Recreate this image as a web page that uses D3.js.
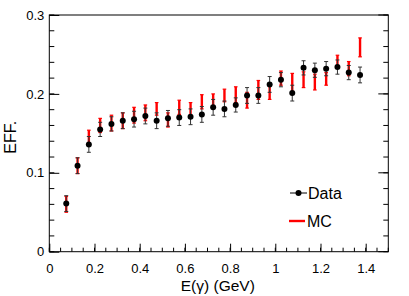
<!DOCTYPE html>
<html>
<head>
<meta charset="utf-8">
<script src="https://cdn.jsdelivr.net/npm/d3@7"></script>
<style>
  body { margin: 0; background: #fff; }
  text { font-family: "Liberation Sans", Arial, sans-serif; fill: #000; }
</style>
</head>
<body>
<div id="chart"></div>
<script>
// bin centres in E(gamma), GeV
var energies = [0.075, 0.125, 0.175, 0.225, 0.275, 0.325, 0.375, 0.425, 0.475, 0.525,
    0.575, 0.625, 0.675, 0.725, 0.775, 0.825, 0.875, 0.925, 0.975, 1.025,
    1.075, 1.125, 1.175, 1.225, 1.275, 1.325, 1.375];

// efficiency measured in data
var dataEff = [0.061, 0.109, 0.136, 0.155, 0.162, 0.166, 0.168, 0.172, 0.166, 0.169,
    0.170, 0.171, 0.174, 0.183, 0.181, 0.186, 0.198, 0.198, 0.212, 0.218,
    0.201, 0.233, 0.230, 0.232, 0.234, 0.227, 0.224];
var dataErr = [0.010, 0.010, 0.010, 0.009, 0.009, 0.010, 0.010, 0.010, 0.010, 0.010,
    0.010, 0.010, 0.010, 0.010, 0.010, 0.009, 0.010, 0.010, 0.010, 0.009,
    0.010, 0.009, 0.009, 0.009, 0.009, 0.009, 0.010];

// efficiency from MC
var mcEff = [0.060, 0.109, 0.145, 0.160, 0.163, 0.166, 0.173, 0.176, 0.181, 0.167,
    0.183, 0.180, 0.190, 0.191, 0.198, 0.199, 0.192, 0.205, 0.203, 0.220,
    0.214, 0.218, 0.215, 0.219, 0.241, 0.232, 0.259];
var mcErr = [0.010, 0.010, 0.009, 0.009, 0.010, 0.010, 0.010, 0.010, 0.008, 0.009,
    0.009, 0.009, 0.009, 0.009, 0.008, 0.010, 0.010, 0.012, 0.010, 0.009,
    0.012, 0.010, 0.010, 0.008, 0.008, 0.009, 0.012];

var xTickValues = [0, 0.2, 0.4, 0.6, 0.8, 1, 1.2, 1.4];
var yTickValues = [0, 0.1, 0.2, 0.3];

var svgWidth = 409;
var svgHeight = 296;
var margin = { top: 15, right: 20.7, bottom: 44.3, left: 49.3 };
var width = svgWidth - margin.left - margin.right;
var height = svgHeight - margin.top - margin.bottom;

var svg = d3.select("#chart")
    .append("svg")
    .attr("width", svgWidth)
    .attr("height", svgHeight);

var chartGroup = svg.append("g")
    .attr("transform", `translate(${margin.left}, ${margin.top})`);

var x = d3.scaleLinear().domain([0, 1.5]).range([0, width]);
var y = d3.scaleLinear().domain([0, 0.3]).range([height, 0]);

// minor ticks
var xMinor = d3.range(0, 1.5001, 0.05);
var yMinor = d3.range(0, 0.3001, 0.02);

// axes: ticks point inward like ROOT
var bottomAxis = d3.axisBottom(x).tickValues(xTickValues).tickSize(-8).tickPadding(12)
    .tickFormat(d => d === 0 ? "0" : d3.format("")(d));
var leftAxis = d3.axisLeft(y).tickValues(yTickValues).tickSize(-10).tickPadding(5)
    .tickFormat(d => d === 0 ? "0" : d3.format(".1f")(d));

chartGroup.append("g").selectAll("line.xm")
    .data(xMinor).enter().append("line")
    .attr("x1", d => x(d)).attr("x2", d => x(d))
    .attr("y1", height).attr("y2", height - 4)
    .attr("stroke", "#000");

chartGroup.append("g").selectAll("line.ym")
    .data(yMinor).enter().append("line")
    .attr("x1", 0).attr("x2", 5)
    .attr("y1", d => y(d)).attr("y2", d => y(d))
    .attr("stroke", "#000");

chartGroup.append("g").selectAll("line.yr")
    .data(yMinor).enter().append("line")
    .attr("x1", width).attr("x2", width - 5)
    .attr("y1", d => y(d)).attr("y2", d => y(d))
    .attr("stroke", "#000");

chartGroup.append("g").selectAll("line.yR")
    .data(yTickValues).enter().append("line")
    .attr("x1", width).attr("x2", width - 10)
    .attr("y1", d => y(d)).attr("y2", d => y(d))
    .attr("stroke", "#000");

var xg = chartGroup.append("g")
    .attr("transform", `translate(0, ${height})`)
    .call(bottomAxis);
var yg = chartGroup.append("g").call(leftAxis);

[xg, yg].forEach(function (g) {
    g.select(".domain").remove();
    g.selectAll("text").style("font-size", "13px").style("font-family", "Liberation Sans, Arial, sans-serif");
});

// frame
chartGroup.append("rect")
    .attr("width", width).attr("height", height)
    .attr("fill", "none").attr("stroke", "#000").attr("stroke-width", 1);

// MC error bars (red)
var mc = energies.map((e, i) => ({ e: e, v: mcEff[i], err: mcErr[i] }));
var mcGroup = chartGroup.append("g");
mcGroup.selectAll("line.bar").data(mc).enter().append("line")
    .attr("x1", d => x(d.e)).attr("x2", d => x(d.e))
    .attr("y1", d => y(d.v - d.err)).attr("y2", d => y(d.v + d.err))
    .attr("stroke", "#ff0000").attr("stroke-width", 2.4);
mcGroup.selectAll("line.capt").data(mc).enter().append("line")
    .attr("x1", d => x(d.e) - 1.8).attr("x2", d => x(d.e) + 1.8)
    .attr("y1", d => y(d.v + d.err)).attr("y2", d => y(d.v + d.err))
    .attr("stroke", "#ff0000").attr("stroke-width", 1.2);
mcGroup.selectAll("line.capb").data(mc).enter().append("line")
    .attr("x1", d => x(d.e) - 1.8).attr("x2", d => x(d.e) + 1.8)
    .attr("y1", d => y(d.v - d.err)).attr("y2", d => y(d.v - d.err))
    .attr("stroke", "#ff0000").attr("stroke-width", 1.2);

// data error bars and markers
var data = energies.map((e, i) => ({ e: e, v: dataEff[i], err: dataErr[i] }));
var dataGroup = chartGroup.append("g");
dataGroup.selectAll("line.bar").data(data).enter().append("line")
    .attr("x1", d => x(d.e)).attr("x2", d => x(d.e))
    .attr("y1", d => y(d.v - d.err)).attr("y2", d => y(d.v + d.err))
    .attr("stroke", "#333").attr("stroke-width", 1);
dataGroup.selectAll("line.capt").data(data).enter().append("line")
    .attr("x1", d => x(d.e) - 2).attr("x2", d => x(d.e) + 2)
    .attr("y1", d => y(d.v + d.err)).attr("y2", d => y(d.v + d.err))
    .attr("stroke", "#333").attr("stroke-width", 1);
dataGroup.selectAll("line.capb").data(data).enter().append("line")
    .attr("x1", d => x(d.e) - 2).attr("x2", d => x(d.e) + 2)
    .attr("y1", d => y(d.v - d.err)).attr("y2", d => y(d.v - d.err))
    .attr("stroke", "#333").attr("stroke-width", 1);
dataGroup.selectAll("circle").data(data).enter().append("circle")
    .attr("cx", d => x(d.e)).attr("cy", d => y(d.v))
    .attr("r", 3).attr("fill", "#000");

// legend
var legend = svg.append("g");
legend.append("line").attr("x1", 290).attr("x2", 307).attr("y1", 193).attr("y2", 193)
    .attr("stroke", "#000").attr("stroke-width", 1);
legend.append("circle").attr("cx", 298.5).attr("cy", 193).attr("r", 3).attr("fill", "#000");
legend.append("text").attr("x", 308).attr("y", 199).style("font-size", "16px").text("Data");
legend.append("line").attr("x1", 289).attr("x2", 305).attr("y1", 221).attr("y2", 221)
    .attr("stroke", "#ff0000").attr("stroke-width", 2.4);
legend.append("text").attr("x", 307).attr("y", 227).style("font-size", "16px").text("MC");

// axis titles
svg.append("text")
    .attr("x", margin.left + width / 2 - 1)
    .attr("y", 290.5)
    .style("text-anchor", "middle")
    .style("font-size", "15.5px")
    .text("E(\u03b3) (GeV)");

svg.append("text")
    .attr("transform", `translate(15.5, ${margin.top + height / 2 + 4}) rotate(-90)`)
    .style("text-anchor", "middle")
    .style("font-size", "16px")
    .text("EFF.");
</script>
</body>
</html>
